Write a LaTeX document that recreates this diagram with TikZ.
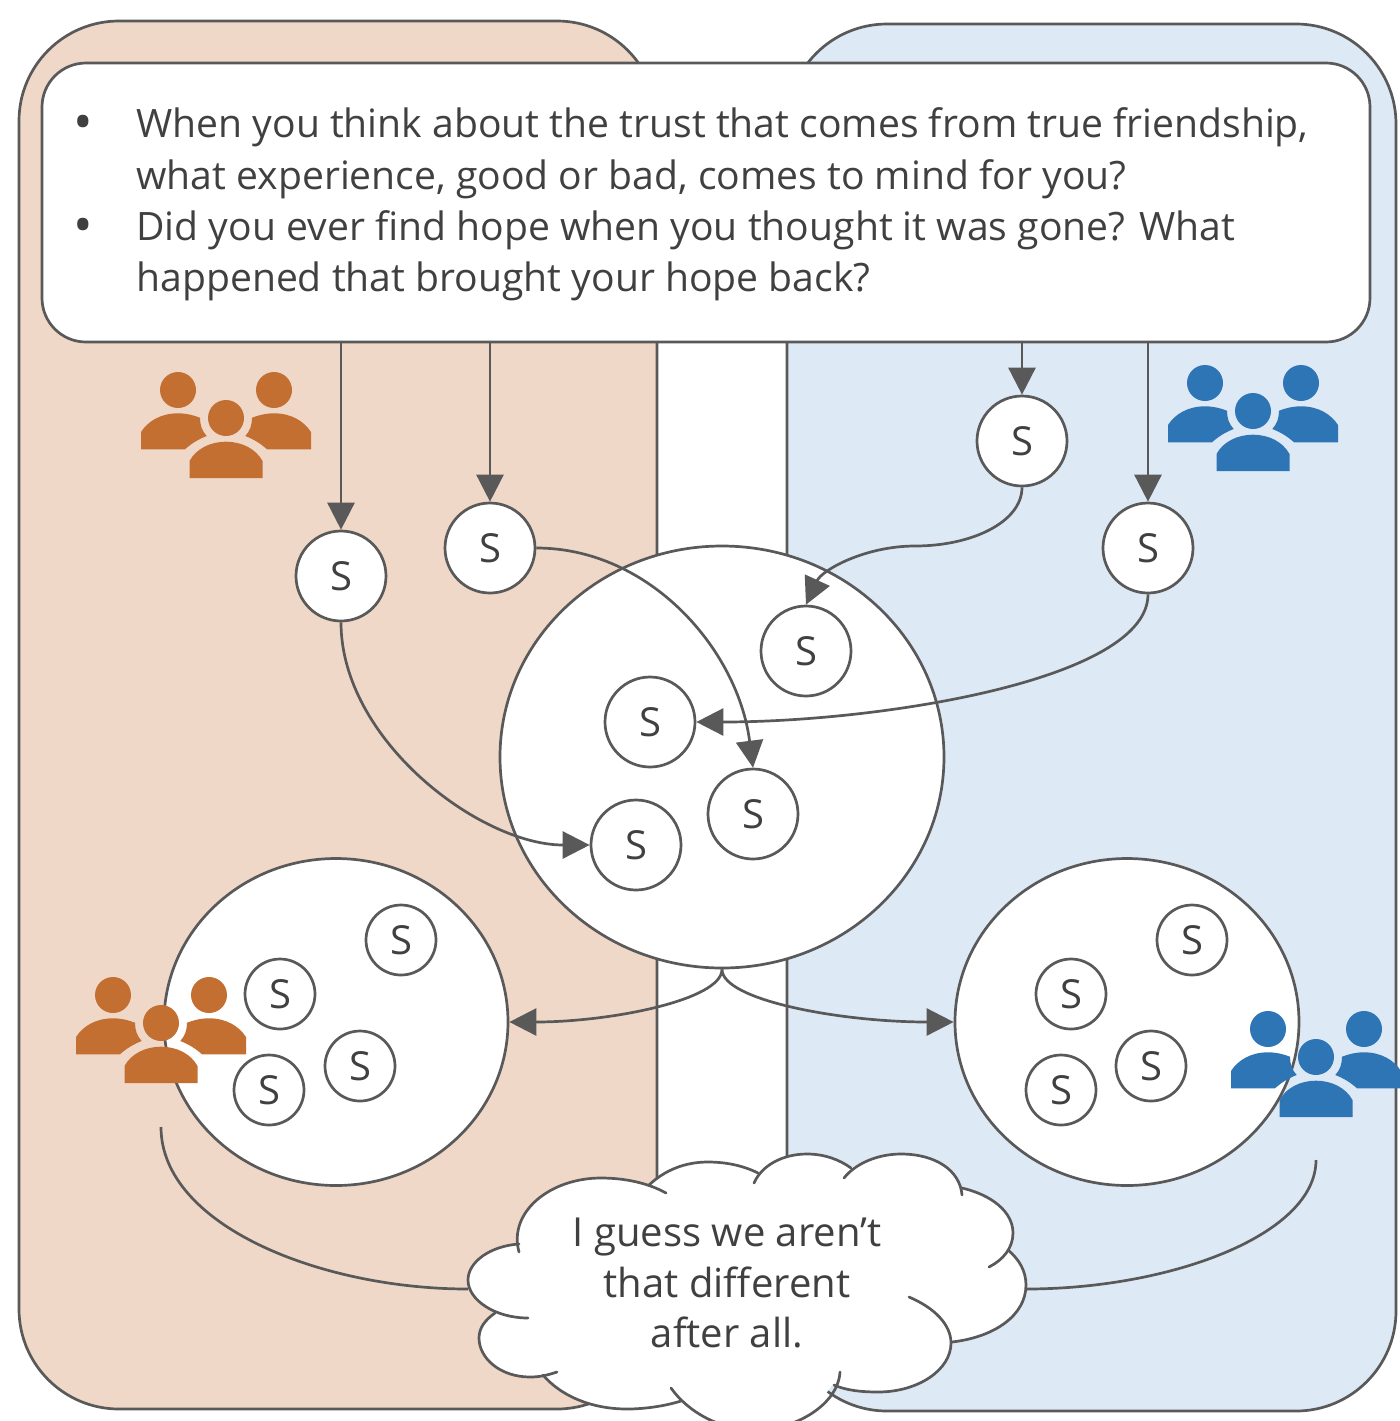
\documentclass[tikz,border=0pt]{standalone}
\usepackage{fontspec}
\setmainfont{Open Sans}
\usetikzlibrary{arrows.meta}
\definecolor{ink}{HTML}{595959}
\definecolor{txt}{HTML}{404040}
\definecolor{peach}{HTML}{F0D8C8}
\definecolor{sky}{HTML}{DEE9F6}
\definecolor{orangeppl}{HTML}{C46F32}
\definecolor{blueppl}{HTML}{2E75B6}
\tikzset{
  line/.style={draw=ink,line width=1.35pt},
  conn/.style={line,-{Triangle[length=13.5pt,width=13.5pt]}},
  plain/.style={line},
  panel/.style={line,rounded corners=50pt},
  bigS/.style={circle,line,fill=white,minimum size=45pt,inner sep=0pt,text=txt,font=\fontsize{20}{24}\selectfont},
  smallS/.style={circle,line,fill=white,minimum size=35pt,inner sep=0pt,text=txt,font=\fontsize{20}{24}\selectfont},
  blob/.style={ellipse,line,fill=white},
  people/.pic={
    \fill[pic actions] (-48,-28) circle[radius=9pt];
    \fill[pic actions] (48,-28) circle[radius=9pt];
    \fill[pic actions] (0,0) circle[radius=9pt];
    \fill[pic actions] (-85,31.3) -- (-85,14) .. controls (-78,3) and (-65,-4.7) .. (-48,-4.7) .. controls (-40,-4.7) and (-33,-3) .. (-26,-0.3) .. controls (-26,7) and (-24,13) .. (-19.3,18) .. controls (-27,21) and (-34,25) .. (-41,31.3) -- cycle;
    \fill[pic actions] (85,31.3) -- (85,14) .. controls (78,3) and (65,-4.7) .. (48,-4.7) .. controls (40,-4.7) and (33,-3) .. (26,-0.3) .. controls (26,7) and (24,13) .. (19.3,18) .. controls (27,21) and (34,25) .. (41,31.3) -- cycle;
    \fill[pic actions] (-36.5,60) -- (-36.5,43) .. controls (-30,31) and (-16,23.7) .. (0,23.7) .. controls (16,23.7) and (30,31) .. (36.5,43) -- (36.5,60) -- cycle;
  }
}
\usetikzlibrary{shapes.geometric}
\newcommand{\qbullet}{\makebox[30pt][l]{\raisebox{-1.5pt}[0pt][0pt]{\hspace{-1.5pt}\fontsize{26}{26}\selectfont •}}}
\begin{document}
\begin{tikzpicture}[x=0.5pt,y=-0.5pt]
\useasboundingbox (0,0) rectangle (1400,1421);
\fill[white] (0,0) rectangle (1400,1421);
% panels
\path[panel,fill=peach] (19,21) rectangle (657,1409);
\path[panel,fill=sky] (787,24) rectangle (1396,1411);
% blobs
\node[blob,minimum width=222pt,minimum height=211pt,inner sep=0pt] (big) at (722,757) {};
\node[blob,minimum width=172pt,minimum height=163.5pt,inner sep=0pt] (leftb) at (336,1022) {};
\node[blob,minimum width=172pt,minimum height=163.5pt,inner sep=0pt] (rightb) at (1127,1022) {};
% question box
\node[line,fill=white,rounded corners=22pt,minimum width=664pt,minimum height=139.5pt,inner sep=0pt] (box) at (706,202.5) {};
\node[anchor=west,align=left,inner sep=0pt,text=txt,font=\fontsize{19.55}{25.7}\selectfont] (qs) at (76,204.5) {%
\qbullet When you think about the trust that comes from true friendship,\\
\makebox[30pt][l]{}what experience, good or bad, comes to mind for you?\\
\qbullet Did you ever find hope when you thought it was gone? What\\
\makebox[30pt][l]{}happened that brought your hope back?};
% S nodes
\node[bigS] (s1) at (341,576) {S};
\node[bigS] (s2) at (490,548) {S};
\node[bigS] (s3) at (1022,441) {S};
\node[bigS] (s4) at (1148,548) {S};
\node[bigS] (t1) at (806,651) {S};
\node[bigS] (t2) at (650,722) {S};
\node[bigS] (t3) at (753,814) {S};
\node[bigS] (t4) at (636,845) {S};
\node[smallS] (l1) at (401,940) {S};
\node[smallS] (l2) at (280,994) {S};
\node[smallS] (l3) at (360,1066) {S};
\node[smallS] (l4) at (269,1090) {S};
\node[smallS] (r1) at (1192,940) {S};
\node[smallS] (r2) at (1071,994) {S};
\node[smallS] (r3) at (1151,1066) {S};
\node[smallS] (r4) at (1061,1090) {S};
% connectors
\draw[conn] (box.south -| s1.north) -- (s1.north);
\draw[conn] (box.south -| s2.north) -- (s2.north);
\draw[conn] (box.south -| s3.north) -- (s3.north);
\draw[conn] (box.south -| s4.north) -- (s4.north);
\draw[conn] (s1.south) .. controls (341,740) and (480,845) .. (t4.west);
\draw[conn] (s2.east) .. controls (650,548) and (738,650) .. (t3.north);
\draw[conn] (s3.south) .. controls (1022,522) and (972,546) .. (915,546) .. controls (865,546) and (822,570) .. (t1.north);
\draw[conn] (s4.south) .. controls (1148,680) and (880,722) .. (t2.east);
\draw[conn] (big.south) .. controls (722,1000) and (610,1022) .. (leftb.east);
\draw[conn] (big.south) .. controls (722,1000) and (840,1022) .. (rightb.west);
% people
\pic[fill=orangeppl] at (226,418) {people};
\pic[fill=blueppl] at (1253,411) {people};
\pic[fill=orangeppl] at (161,1023) {people};
\pic[fill=blueppl] at (1316,1057) {people};
% cloud connectors
\coordinate (pl) at (161,1127);
\coordinate (pr) at (1316,1160);
\coordinate (cl) at (468,1289);
\coordinate (cr) at (1026,1289);
\draw[plain] (pl) .. controls (161,1225) and (320,1289) .. (cl);
\draw[plain] (pr) .. controls (1316,1235) and (1170,1289) .. (cr);
% cloud
\fill[white] (519,1252) .. controls (508,1212) and (550,1178) .. (601,1178) .. controls (620,1178) and (635,1180) .. (649,1185)
 .. controls (665,1170) and (685,1162) .. (708,1162) .. controls (725,1162) and (742,1166) .. (755,1175)
 .. controls (765,1162) and (785,1154) .. (807,1154) .. controls (825,1154) and (840,1160) .. (851,1168)
 .. controls (865,1160) and (883,1154) .. (901,1154) .. controls (935,1154) and (958,1170) .. (962,1188)
 .. controls (992,1195) and (1013,1212) .. (1013,1233) .. controls (1013,1240) and (1011,1245) .. (1008,1250)
 .. controls (1020,1260) and (1026,1272) .. (1026,1285) .. controls (1026,1315) and (995,1337) .. (952,1342)
 .. controls (950,1370) and (918,1392) .. (878,1392) .. controls (860,1392) and (845,1390) .. (832,1385)
 .. controls (815,1412) and (785,1430) .. (755,1430) .. controls (725,1430) and (695,1420) .. (681,1401)
 .. controls (665,1406) and (645,1409) .. (627,1409) .. controls (590,1409) and (560,1395) .. (543,1375)
 -- (530,1377) .. controls (500,1377) and (479,1358) .. (479,1338) .. controls (479,1328) and (485,1320) .. (495,1313)
 -- (528,1318) .. controls (495,1318) and (468,1300) .. (468,1280) .. controls (468,1262) and (490,1246) .. (519,1244) -- cycle;
\draw[plain,line cap=round] (519,1252) .. controls (508,1212) and (550,1178) .. (601,1178) .. controls (625,1178) and (648,1183) .. (666,1193);
\draw[plain,line cap=round] (649,1185) .. controls (665,1170) and (685,1162) .. (708,1162) .. controls (727,1162) and (744,1166) .. (758,1173);
\draw[plain,line cap=round] (754,1183) .. controls (762,1165) and (783,1154) .. (807,1154) .. controls (825,1154) and (840,1160) .. (851,1168);
\draw[plain,line cap=round] (844,1178) .. controls (855,1164) and (877,1154) .. (901,1154) .. controls (935,1154) and (960,1170) .. (962,1195);
\draw[plain,line cap=round] (962,1188) .. controls (992,1195) and (1013,1212) .. (1013,1233) .. controls (1013,1248) and (1003,1260) .. (989,1267);
\draw[plain,line cap=round] (1008,1250) .. controls (1020,1260) and (1026,1272) .. (1026,1285) .. controls (1026,1315) and (995,1337) .. (952,1342);
\draw[plain,line cap=round] (909,1297) .. controls (935,1308) and (951,1325) .. (951,1343) .. controls (951,1370) and (918,1392) .. (878,1392) .. controls (860,1392) and (845,1390) .. (834,1385);
\draw[plain,line cap=round] (840,1372) .. controls (838,1405) and (795,1430) .. (755,1430) .. controls (720,1430) and (688,1412) .. (671,1388);
\draw[plain,line cap=round] (681,1401) .. controls (665,1406) and (645,1409) .. (627,1409) .. controls (590,1409) and (560,1395) .. (543,1375);
\draw[plain,line cap=round] (557,1372) .. controls (548,1375) and (540,1377) .. (530,1377) .. controls (500,1377) and (479,1358) .. (479,1338) .. controls (479,1328) and (485,1320) .. (495,1313);
\draw[plain,line cap=round] (528,1318) .. controls (495,1318) and (468,1300) .. (468,1280) .. controls (468,1262) and (490,1246) .. (519,1244);
\node[align=center,inner sep=0pt,text=txt,font=\fontsize{20}{25.2}\selectfont] (cloudtext) at (727,1283) {I guess we aren’t\\that different\\after all.};
\end{tikzpicture}
\end{document}
